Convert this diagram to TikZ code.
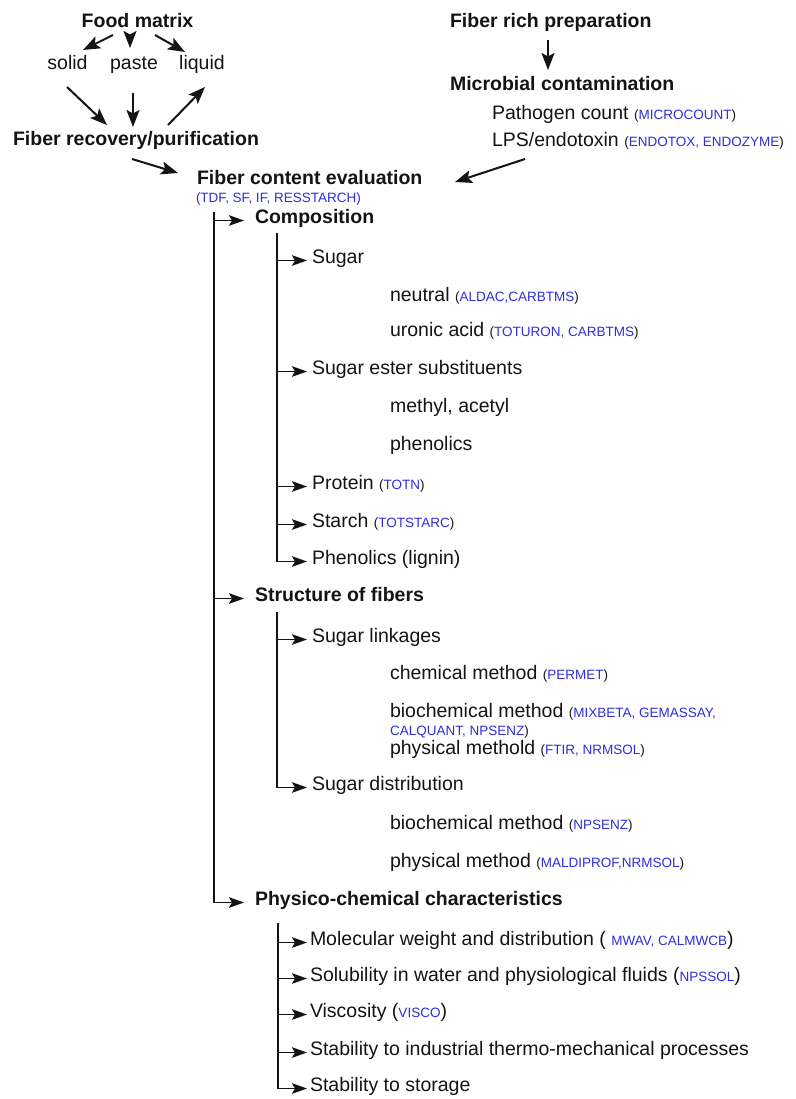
\documentclass[tikz,border=0pt]{standalone}
\usepackage{fontspec}
\setmainfont{Liberation Sans}
\usetikzlibrary{arrows.meta,calc}

\definecolor{ink}{HTML}{141414}
\definecolor{codeblue}{HTML}{2E2EDC}

% type sizes
\newcommand\fsmain{\fontsize{19.5}{22}\selectfont}
\newcommand\fscode{\fontsize{13.5}{15}\selectfont}
% method codes: small dark brackets around blue code names
\newcommand\refs[1]{{\fscode(\textcolor{codeblue}{#1})}}
% method codes with full-size brackets
\newcommand\refsbig[1]{(\textcolor{codeblue}{\fscode #1})}

\tikzset{
  txt/.style={inner sep=0pt, outer sep=0pt, anchor=mid west, text=ink, font=\fsmain, yshift=-3.5pt},
  head/.style={txt, font=\fsmain\bfseries},
  arr/.style={draw=ink, line width=1.8pt, -{Stealth[length=15pt,width=10.5pt,inset=3pt]}},
  flow/.style={draw=ink, line width=2pt, -{Stealth[length=17pt,width=13pt,inset=3.5pt]}},
}

\begin{document}
\begin{tikzpicture}[x=1pt, y=-1pt]
\fill[white] (0,0) rectangle (795,1099);
\useasboundingbox (0,0) rectangle (795,1099);

% ---------- upstream: food matrix ----------
\node[head, anchor=mid] (fm) at (137.5,21) {Food matrix};
\node[txt, anchor=mid] (solid) at (67.5,63) {solid};
\node[txt, anchor=mid] (paste) at (134,63) {paste};
\node[txt, anchor=mid] (liquid) at (202,63) {liquid};
\node[head] (rec) at (13,139) {Fiber recovery/purification};

\draw[flow] ($(fm.mid)+(-24.5,10.5)$) -- ($(solid.mid)+(15.5,-16.5)$);
\draw[flow] ($(fm.mid)+(-7.5,10.5)$) -- ($(paste.mid)+(-4,-18.5)$);
\draw[flow] ($(fm.mid)+(17.5,10.5)$) -- ($(liquid.mid)+(-17,-14.5)$);
\draw[flow] ($(solid.mid)+(-0.5,20.5)$) -- ($(rec.mid west)+(94,-17.5)$);
\draw[flow] ($(paste.mid)+(-1,26.5)$) -- ($(rec.mid west)+(120,-15.5)$);
\draw[flow] ($(rec.mid west)+(155,-17.5)$) -- ($(liquid.mid)+(3,20.5)$);

% ---------- upstream: fiber rich preparation ----------
\node[head] (frp) at (450,21) {Fiber rich preparation};
\node[head] (mc) at (450,84) {Microbial contamination};
\node[txt] (path) at (492,113) {Pathogen count \refs{MICROCOUNT}};
\node[txt] (lps) at (492,140) {LPS/endotoxin \refs{ENDOTOX, ENDOZYME}};
\draw[flow] ($(frp.mid west)+(98,15.5)$) -- ($(mc.mid west)+(98,-17.5)$);

% ---------- fiber content evaluation ----------
\node[head] (fce) at (197,178) {Fiber content evaluation};
\node[txt, font=\fscode, text=codeblue] (tdf) at (196,196) {(TDF, SF, IF, RESSTARCH)};
\draw[flow] ($(rec.mid west)+(119,16.5)$) -- ($(fce.mid west)+(-19,-8.5)$);
\draw[flow] ($(lps.mid west)+(33,15.5)$) -- ($(fce.mid west)+(258,0.5)$);

% ---------- first level ----------
\node[head] (comp) at (255,217) {Composition};
\node[head] (struct) at (255,595) {Structure of fibers};
\node[head] (phys) at (255,899) {Physico-chemical characteristics};

\coordinate (t1) at (214,212);
\draw[arr, shorten >=11pt] (t1) |- (phys.mid west);
\draw[arr, shorten >=11pt] (t1 |- comp.mid west) -- (comp.mid west);
\draw[arr, shorten >=11pt] (t1 |- struct.mid west) -- (struct.mid west);

% ---------- composition ----------
\node[txt] (sugar) at (312,257) {Sugar};
\node[txt] (neutral) at (390,295) {neutral \refs{ALDAC,CARBTMS}};
\node[txt] (uronic) at (390,330) {uronic acid \refs{TOTURON, CARBTMS}};
\node[txt] (ester) at (312,368) {Sugar ester substituents};
\node[txt] (methyl) at (390,406) {methyl, acetyl};
\node[txt] (phen) at (390,444) {phenolics};
\node[txt] (prot) at (312,483) {Protein \refs{TOTN}};
\node[txt] (starch) at (312,521) {Starch \refs{TOTSTARC}};
\node[txt] (lignin) at (312,558) {Phenolics (lignin)};

\coordinate (t2) at (277,233);
\draw[arr, shorten >=5pt] (t2) |- (lignin.mid west);
\foreach \n in {sugar,ester,prot,starch}
  \draw[arr, shorten >=5pt] (t2 |- \n.mid west) -- (\n.mid west);

% ---------- structure ----------
\node[txt] (link) at (312,636) {Sugar linkages};
\node[txt] (chem) at (390,673) {chemical method \refs{PERMET}};
\node[txt] (bio) at (390,711) {biochemical method {\fscode(\textcolor{codeblue}{MIXBETA, GEMASSAY,}}};
\node[txt, font=\fscode] (bio2) at (390,729) {\textcolor{codeblue}{CALQUANT, NPSENZ})};
\node[txt] (physm) at (390,748) {physical methold \refs{FTIR, NRMSOL}};
\node[txt] (dist) at (312,784) {Sugar distribution};
\node[txt] (bioD) at (390,823) {biochemical method \refs{NPSENZ}};
\node[txt] (physD) at (390,861) {physical method \refs{MALDIPROF,NRMSOL}};

\coordinate (t3) at (277,612);
\draw[arr, shorten >=5pt] (t3) |- (dist.mid west);
\draw[arr, shorten >=5pt] (t3 |- link.mid west) -- (link.mid west);

% ---------- physico-chemical ----------
\node[txt] (mw) at (310,939) {Molecular weight and distribution ( \textcolor{codeblue}{\fscode MWAV, CALMWCB})};
\node[txt] (sol) at (310,975) {Solubility in water and physiological fluids \refsbig{NPSSOL}};
\node[txt] (visc) at (310,1011) {Viscosity \refsbig{VISCO}};
\node[txt] (stab) at (310,1049) {Stability to industrial thermo-mechanical processes};
\node[txt] (stor) at (310,1085) {Stability to storage};

\coordinate (t4) at (278,923);
\draw[arr, shorten >=3pt] (t4) |- (stor.mid west);
\foreach \n in {mw,sol,visc,stab}
  \draw[arr, shorten >=3pt] (t4 |- \n.mid west) -- (\n.mid west);

\end{tikzpicture}
\end{document}
